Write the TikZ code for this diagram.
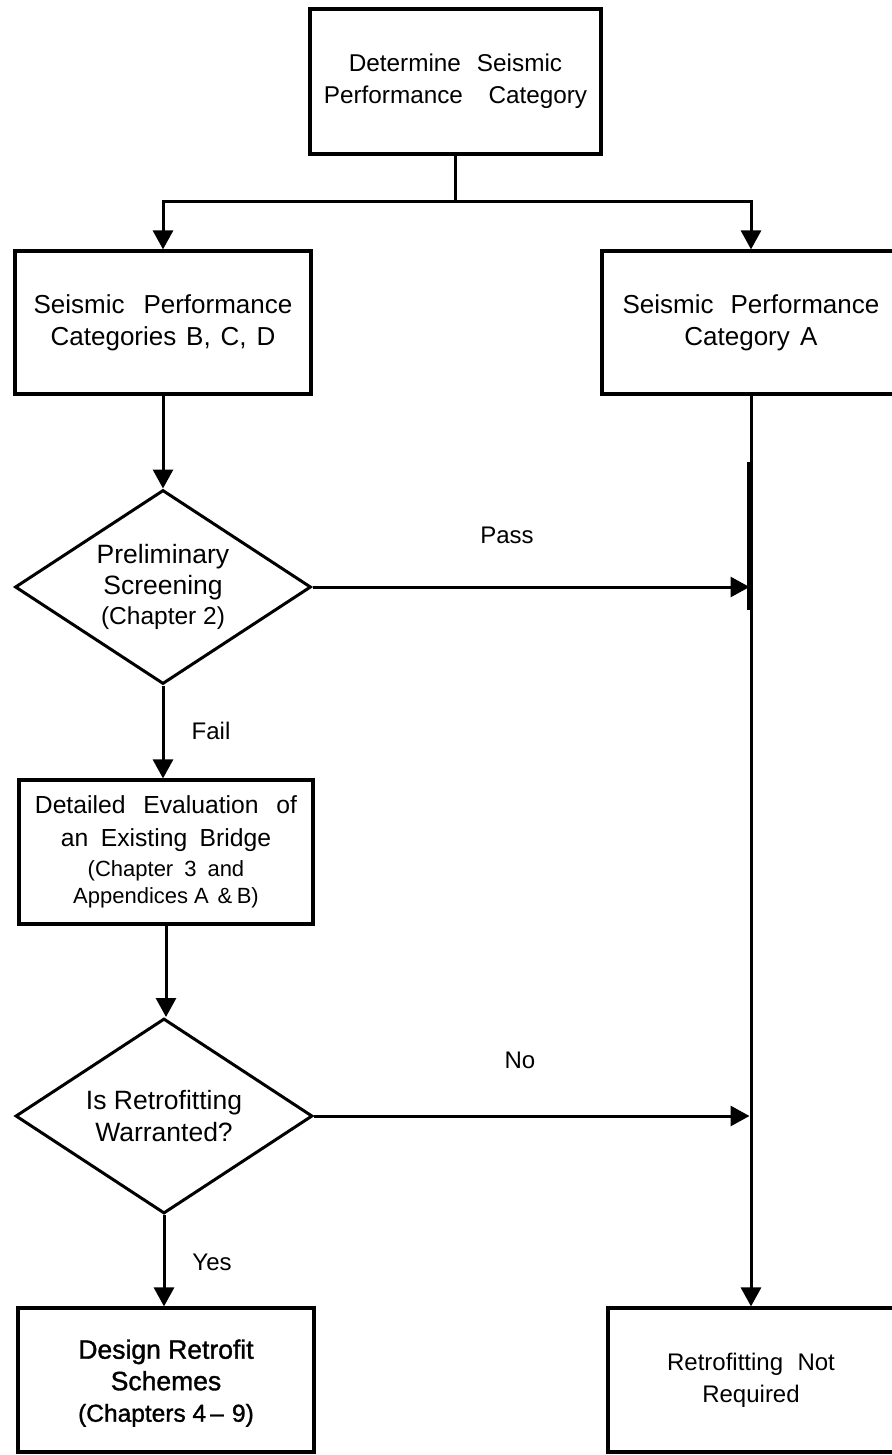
\documentclass[tikz,border=0pt]{standalone}
\usepackage{fontspec}
\setmainfont{Liberation Sans}
\newfontfamily\heavyfont[FakeBold=1.3]{Liberation Sans}
\usetikzlibrary{shapes.geometric,arrows.meta}

\tikzset{
  stepbox/.style={draw, line width=3.2pt, inner sep=0pt, align=center},
  decision/.style={draw, diamond, line width=3pt, inner sep=0pt, aspect=1.5, align=center},
  link/.style={line width=3pt},
  flow/.style={link, -{Triangle[length=19pt,width=20pt]}},
  tag/.style={inner sep=0pt, font=\fontsize{24}{29}\selectfont},
}

\begin{document}
\begin{tikzpicture}[x=1pt,y=-1pt]
\fill[white] (0,0) rectangle (891,1455);
\useasboundingbox (0,0) rectangle (891,1455);

% process boxes
\node[stepbox, minimum width=291pt, minimum height=145pt,
      font=\fontsize{24.3}{32}\selectfont] (seismic) at (455.5,81.5)
  {Determine\hspace{0.66em}Seismic\\Performance\hspace{1.05em}Category};

\node[stepbox, minimum width=296pt, minimum height=143pt,
      font=\fontsize{26}{32}\selectfont] (bcd) at (163,322.5)
  {Seismic\hspace{0.73em}Performance\\Categories\hspace{0.38em}B,\hspace{0.38em}C,\hspace{0.38em}D};

\node[stepbox, minimum width=298pt, minimum height=143pt,
      font=\fontsize{26}{32}\selectfont] (catA) at (751,322.5)
  {Seismic\hspace{0.65em}Performance\\Category\hspace{0.4em}A};

\node[decision, minimum width=296pt, minimum height=194pt,
      font=\fontsize{26.5}{30.5}\selectfont] (screen) at (163,587)
  {Preliminary\\Screening\\\fontsize{24.5}{30}\selectfont(Chapter 2)};

\node[stepbox, minimum width=294pt, minimum height=144pt,
      font=\fontsize{24.7}{33}\selectfont] (detail) at (166,852)
  {Detailed\hspace{0.72em}Evaluation\hspace{0.72em}of\\
   an\hspace{0.5em}Existing\hspace{0.5em}Bridge\\[-3pt]
   \fontsize{22}{27}\selectfont(Chapter\hspace{0.5em}3\hspace{0.5em}and\\[-6pt]
   \fontsize{22}{27}\selectfont Appendices A\hspace{0.4em}\&\hspace{0.2em}B)};

\node[decision, minimum width=297pt, minimum height=195pt,
      font=\fontsize{26.5}{32}\selectfont] (warrant) at (164,1116)
  {Is Retrofitting\\Warranted?};

\node[stepbox, minimum width=296pt, minimum height=144pt,
      font=\heavyfont\fontsize{26.5}{31.5}\selectfont] (design) at (166,1380)
  {\\[-6pt]Design Retrofit\\Schemes\\\fontsize{24.5}{31.5}\selectfont(Chapters 4\,\textendash\,\,9)};

\node[stepbox, minimum width=286pt, minimum height=144pt,
      font=\fontsize{24}{32}\selectfont] (notreq) at (751,1380)
  {Retrofitting\hspace{0.6em}Not\\Required};

% branch below the first box
\path (seismic.south) ++(0,45.5) coordinate (fork);
\draw[link] (seismic.south) -- (fork);
\draw[flow] (fork) -| (bcd.north);
\draw[flow] (fork) -| (catA.north);

% left column
\draw[flow] (bcd.south) -- (bcd.south |- screen.north);
\draw[flow] (screen.south) -- (screen.south |- detail.north);
\draw[flow] (detail.south) -- (detail.south |- warrant.north);
\draw[flow] (warrant.south) -- (warrant.south |- design.north);

% right column with its joining arrows
\coordinate (passpt) at (catA.south |- screen.east);
\coordinate (nopt) at (catA.south |- warrant.east);
\draw[flow] (catA.south) -- (notreq.north);
\draw[line width=4.5pt] (749.5,462) -- (749.5,610);
\draw[flow, shorten >=1.5pt] (screen.east) -- (passpt);
\draw[flow, shorten >=1.5pt] (warrant.east) -- (nopt);

% branch labels
\node[tag] (passlbl) at (507,535) {Pass};
\node[tag] (faillbl) at (211,731) {Fail};
\node[tag] (nolbl) at (520,1060) {No};
\node[tag] (yeslbl) at (212,1262) {Yes};
\end{tikzpicture}
\end{document}
